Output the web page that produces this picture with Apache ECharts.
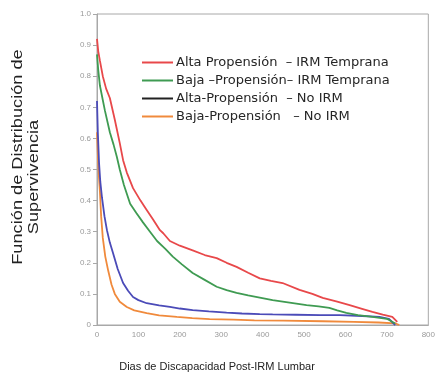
<!DOCTYPE html>
<html>
<head>
<meta charset="utf-8">
<script src="https://cdn.jsdelivr.net/npm/echarts@6/dist/echarts.min.js"></script>
<style>
  html, body { margin: 0; padding: 0; background: #fff; }
  #chart { width: 438px; height: 376px; }
</style>
</head>
<body>
<div id="chart"></div>
<script>
// datos (días, supervivencia)
const seriesNames = [
  'Alta Propensión  – IRM Temprana',
  'Baja –Propensión– IRM Temprana',
  'Alta-Propensión  – No IRM',
  'Baja-Propensión   – No IRM'
];

const daysAltaIrm = [0,3,7,14,22,31,43,55,63,72,87,105,120,135,152,160,176,200,231,260,289,313,337,365,393,420,448,489,520,545,580,610,640,665,690,713,725];
const survAltaIrm = [0.92,0.88,0.85,0.80,0.76,0.73,0.66,0.585,0.53,0.49,0.44,0.40,0.37,0.34,0.305,0.295,0.27,0.255,0.24,0.225,0.215,0.20,0.187,0.168,0.15,0.142,0.135,0.113,0.10,0.087,0.075,0.064,0.052,0.042,0.033,0.026,0.01];

const daysBajaIrm = [0,3,7,13,19,31,40,48,55,65,80,95,111,128,145,165,183,205,231,260,289,313,337,365,393,424,465,506,535,561,580,602,630,665,700,720];
const survBajaIrm = [0.87,0.82,0.77,0.73,0.69,0.62,0.58,0.54,0.50,0.45,0.39,0.36,0.33,0.30,0.27,0.245,0.22,0.195,0.167,0.145,0.123,0.112,0.103,0.095,0.088,0.08,0.072,0.064,0.06,0.055,0.047,0.039,0.032,0.026,0.02,0.005];

const daysAltaNo = [0,2,5,8,12,18,24,31,39,50,63,75,87,100,120,150,176,200,231,270,313,350,393,424,480,540,586,640,682,705,720];
const survAltaNo = [0.72,0.62,0.52,0.46,0.41,0.35,0.305,0.265,0.23,0.18,0.135,0.11,0.09,0.08,0.07,0.063,0.058,0.053,0.048,0.044,0.04,0.037,0.035,0.034,0.033,0.032,0.032,0.029,0.026,0.02,0.0];

const daysBajaNo = [0,2,4,7,10,14,20,27,35,43,55,72,90,120,150,193,230,272,330,380,450,545,620,680,720,730];
const survBajaNo = [0.62,0.55,0.49,0.43,0.35,0.28,0.22,0.175,0.13,0.10,0.075,0.058,0.047,0.038,0.031,0.026,0.022,0.019,0.017,0.015,0.014,0.012,0.01,0.008,0.005,0.0];

const colors = ['#e8484a', '#3f9b52', '#4b4bb8', '#f08a3c'];
const legendColors = ['#e8484a', '#3f9b52', '#222222', '#f08a3c'];

const pairs = (xs, ys) => xs.map((x, i) => [x, ys[i]]);
const allData = [
  pairs(daysAltaIrm, survAltaIrm),
  pairs(daysBajaIrm, survBajaIrm),
  pairs(daysAltaNo, survAltaNo),
  pairs(daysBajaNo, survBajaNo)
];

const chart = echarts.init(document.getElementById('chart'), null, { renderer: 'canvas' });

// el original está algo estirado a lo ancho, por eso scaleX en los títulos
const titleFont = { fontFamily: 'Liberation Sans', fontSize: 14, fill: '#222', align: 'center', verticalAlign: 'middle' };

const option = {
  animation: false,
  grid: {
    left: 97, right: 7, top: 14, bottom: 51,
    show: true, borderColor: '#a8a8a8', borderWidth: 1
  },
  legend: {
    orient: 'vertical',
    left: 142,
    top: 56,
    padding: 0,
    icon: 'rect',
    itemWidth: 31,
    itemHeight: 2,
    itemGap: 5,
    textStyle: { fontFamily: 'DejaVu Sans', fontSize: 13, color: '#262626', padding: [0, 0, 0, -2] },
    data: seriesNames.map((n, i) => ({ name: n, itemStyle: { color: legendColors[i] } }))
  },
  xAxis: {
    type: 'value',
    min: 0, max: 800, interval: 100,
    axisLine: { show: true, lineStyle: { color: '#a8a8a8' } },
    axisTick: { show: false },
    splitLine: { show: false },
    axisLabel: { fontFamily: 'Liberation Sans', fontSize: 8, color: '#9a9a9a', margin: 6 }
  },
  yAxis: {
    type: 'value',
    min: 0, max: 1, interval: 0.1,
    axisLine: { show: true, lineStyle: { color: '#a8a8a8' } },
    axisTick: { show: true, length: 4, lineStyle: { color: '#a8a8a8' } },
    splitLine: { show: false },
    axisLabel: {
      fontFamily: 'Liberation Sans', fontSize: 8, color: '#9a9a9a', margin: 6,
      formatter: v => (v === 0 ? '0' : v.toFixed(1))
    }
  },
  graphic: [
    {
      type: 'text', rotation: Math.PI / 2, x: 18, y: 157, scaleX: 1.3,
      style: Object.assign({ text: 'Función de Distribución de' }, titleFont)
    },
    {
      type: 'text', rotation: Math.PI / 2, x: 34, y: 177, scaleX: 1.3,
      style: Object.assign({ text: 'Supervivencia' }, titleFont)
    },
    {
      type: 'text', x: 217, y: 367,
      style: {
        text: 'Dias de Discapacidad Post-IRM Lumbar', fontFamily: 'Liberation Sans', fontSize: 11,
        fill: '#222', align: 'center', verticalAlign: 'middle'
      }
    }
  ],
  series: allData.map((d, i) => ({
    name: seriesNames[i],
    type: 'line',
    data: d,
    showSymbol: false,
    symbol: 'none',
    smooth: false,
    lineStyle: { color: colors[i], width: 1.8 },
    itemStyle: { color: colors[i] },
    z: 4 - i
  }))
};

chart.setOption(option);
</script>
</body>
</html>
